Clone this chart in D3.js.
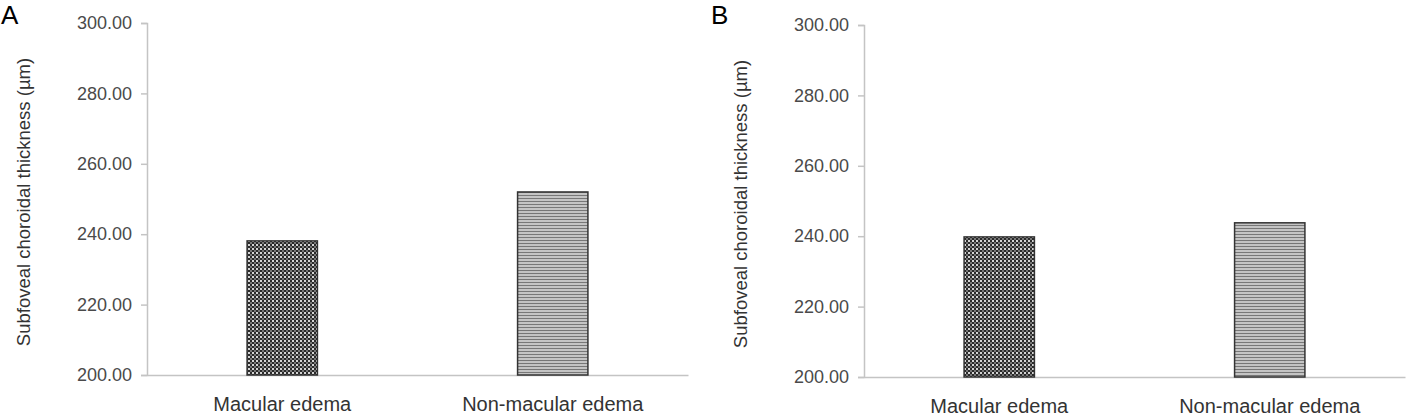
<!DOCTYPE html>
<html>
<head>
<meta charset="utf-8">
<script src="https://cdn.jsdelivr.net/npm/d3@7"></script>
<style>
  body { margin: 0; background: #fff; }
  svg { display: block; }
</style>
</head>
<body>
<svg id="svg" width="1416" height="417"></svg>
<script>
// data
const categories = ['Macular edema', 'Non-macular edema']
const panelLabels = ['A', 'B']
const valuesA = [238.1, 252.0]
const valuesB = [239.8, 243.8]
const yTicks = [200, 220, 240, 260, 280, 300]
const yTitle = 'Subfoveal choroidal thickness (\u00b5m)'

const svg = d3.select('#svg')
const defs = svg.append('defs')

// checker pattern
const checker = defs.append('pattern')
    .attr('id', 'checker')
    .attr('patternUnits', 'userSpaceOnUse')
    .attr('width', 4).attr('height', 4)
checker.append('rect').attr('width', 4).attr('height', 4).attr('fill', '#2a2a2a')
checker.append('rect').attr('x', 0).attr('y', 0).attr('width', 2).attr('height', 2).attr('fill', '#d4d4d4')
checker.append('rect').attr('x', 2).attr('y', 2).attr('width', 2).attr('height', 2).attr('fill', '#777')

// horizontal stripes
const stripes = defs.append('pattern')
    .attr('id', 'stripes')
    .attr('patternUnits', 'userSpaceOnUse')
    .attr('width', 4).attr('height', 3)
stripes.append('rect').attr('width', 4).attr('height', 3).attr('fill', '#c4c4c4')
stripes.append('rect').attr('y', 0).attr('width', 4).attr('height', 1).attr('fill', '#777')

const fills = ['url(#checker)', 'url(#stripes)']
const font = 'Liberation Sans, Arial, sans-serif'

function drawPanel(values, letter, pos)
{
    const g = svg.append('g')

    const x = d3.scaleBand()
        .domain(categories)
        .range([pos.left, pos.right])
        .paddingInner(0.74)
        .paddingOuter(0.37)

    const y = d3.scaleLinear()
        .domain([200, 300])
        .range([pos.bottom, pos.top])

    // y axis
    const yAxis = g.append('g')
        .attr('transform', `translate(${pos.left},0)`)
        .call(d3.axisLeft(y).tickValues(yTicks).tickFormat(d3.format('.2f')).tickSizeOuter(0).tickSize(6).tickPadding(9))
    yAxis.select('.domain').attr('stroke', '#c4c4c4').attr('stroke-width', 1.5)
    yAxis.selectAll('.tick line').attr('stroke', '#c4c4c4').attr('stroke-width', 1.5)
    yAxis.selectAll('.tick text')
        .attr('font-family', font)
        .attr('font-size', 18)
        .attr('fill', '#4a4a4a')

    // x axis
    const xAxis = g.append('g')
        .attr('transform', `translate(0,${pos.bottom})`)
        .call(d3.axisBottom(x).tickSize(0).tickPadding(22))
    xAxis.select('.domain').attr('stroke', '#c4c4c4').attr('stroke-width', 1.5)
    xAxis.selectAll('.tick text')
        .attr('font-family', font)
        .attr('font-size', 20)
        .attr('fill', '#333')

    // bars
    g.selectAll('.bar')
        .data(values)
        .enter().append('rect')
        .attr('class', 'bar')
        .attr('x', (d, i) => x(categories[i]))
        .attr('width', x.bandwidth())
        .attr('y', d => y(d))
        .attr('height', d => y(200) - y(d))
        .attr('fill', (d, i) => fills[i])
        .attr('stroke', '#333')
        .attr('stroke-width', 1.5)

    // y title
    g.append('text')
        .text(yTitle)
        .attr('font-family', font)
        .attr('font-size', 18.5)
        .attr('fill', '#333')
        .attr('text-anchor', 'middle')
        .attr('transform', `translate(${pos.left - 117},${(pos.top + pos.bottom) / 2 + 3}) rotate(-90)`)

    // panel letter
    g.append('text')
        .text(letter)
        .attr('font-family', font)
        .attr('font-size', 26)
        .attr('fill', '#000')
        .attr('x', pos.letterX)
        .attr('y', 24)
}

drawPanel(valuesA, panelLabels[0], { left: 147, right: 688, top: 23, bottom: 375, letterX: 1 })
drawPanel(valuesB, panelLabels[1], { left: 864, right: 1405, top: 25, bottom: 377, letterX: 711 })
</script>
</body>
</html>
